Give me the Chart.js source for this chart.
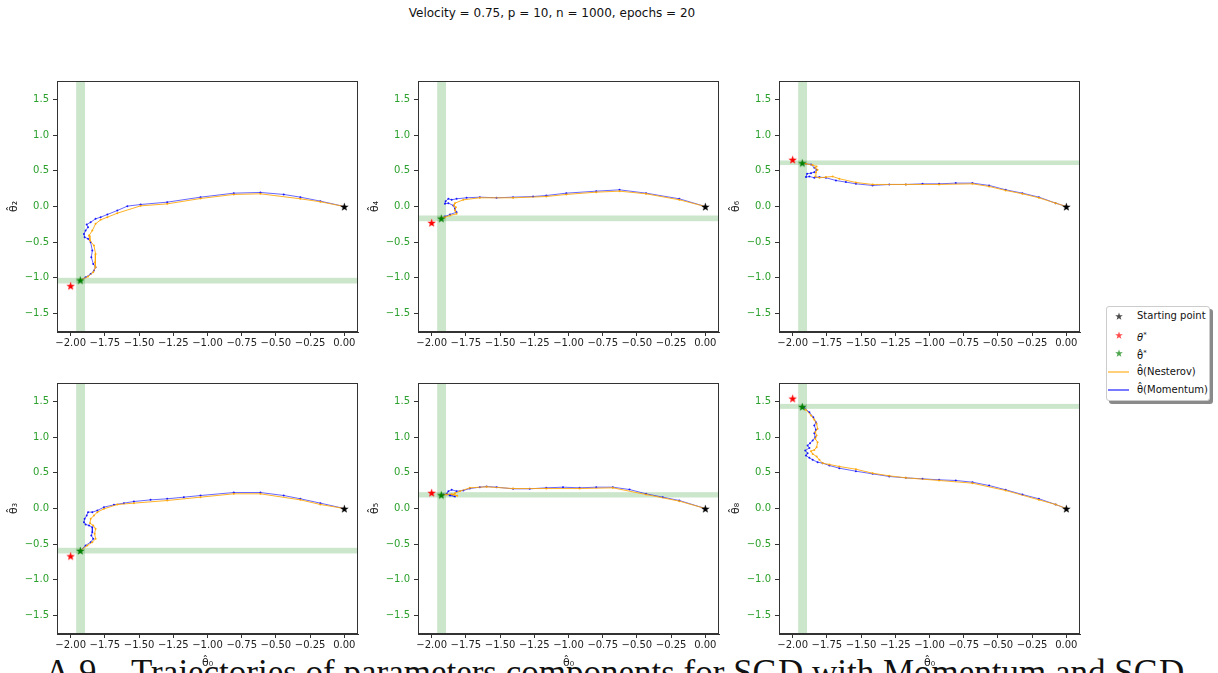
<!DOCTYPE html>
<html>
<head>
<meta charset="utf-8">
<script src="https://cdn.jsdelivr.net/npm/chart.js@4.4.0/dist/chart.umd.min.js"></script>
<style>
body { margin:0; width:1218px; height:673px; overflow:hidden; background:#fff; position:relative; font-family:"DejaVu Sans", sans-serif; }
canvas.panel { position:absolute; }
#title { position:absolute; top:6px; left:0; width:1104px; text-align:center; font-size:12px; color:#111; }
#caption { position:absolute; left:45px; top:655px; font-family:"Liberation Serif", serif; font-size:35px; line-height:35px; white-space:nowrap; color:#111; }
#legend { position:absolute; left:1106px; top:306px; width:102px; height:93px; border:1px solid #ccc; border-radius:3px; background:#fff; box-shadow:3px 3px 0 #8a8a8a; font-size:10px; color:#111; }
.row { position:absolute; left:0; height:18px; line-height:18px; }
.row canvas { position:absolute; top:0; left:0; }
.row span { position:absolute; left:30px; white-space:nowrap; }
</style>
</head>
<body>
<div id="caption">A.9 – Trajectories of parameters components for SGD with Momentum and SGD</div>
<div id="title">Velocity = 0.75, p = 10, n = 1000, epochs = 20</div>
<div id="legend"></div>
<script>
// axes
const xTicks = [-2, -1.75, -1.5, -1.25, -1, -0.75, -0.5, -0.25, 0];
const yTicks = [-1.5, -1, -0.5, 0, 0.5, 1, 1.5];
const components = ['θ̂₂', 'θ̂₄', 'θ̂₆', 'θ̂₃', 'θ̂₅', 'θ̂₈'];
const xLabel = 'θ̂₀';

// markers, one per panel
const startPoint = [0, 0];
const thetaStar = [[-2.0, -1.11], [-2.0, -0.225], [-2.0, 0.66], [-2.0, -0.664], [-2.0, 0.224], [-2.0, 1.547]];
const thetaHatStar = [[-1.93, -1.03], [-1.93, -0.164], [-1.93, 0.613], [-1.93, -0.589], [-1.93, 0.192], [-1.93, 1.43]];
const vBands = [[-1.96, -1.895], [-1.96, -1.895], [-1.96, -1.895], [-1.96, -1.895], [-1.96, -1.895], [-1.96, -1.895]];
const hBands = [[-1.08, -1.0], [-0.206, -0.126], [0.581, 0.646], [-0.631, -0.551], [0.154, 0.229], [1.397, 1.467]];

// trajectories (theta0, thetaK)
const mom2 = [[0,0],[-0.175,0.075],[-0.321,0.131],[-0.443,0.169],[-0.613,0.197],[-0.808,0.187],[-1.051,0.131],[-1.294,0.061],[-1.489,0.028],[-1.586,0.005],[-1.659,-0.056],[-1.732,-0.112],[-1.781,-0.15],[-1.818,-0.173],[-1.854,-0.22],[-1.883,-0.253],[-1.873,-0.29],[-1.891,-0.337],[-1.903,-0.384],[-1.898,-0.431],[-1.873,-0.454],[-1.854,-0.501],[-1.842,-0.618],[-1.849,-0.712],[-1.835,-0.805],[-1.818,-0.852],[-1.83,-0.899],[-1.854,-0.946],[-1.891,-0.993],[-1.927,-1.03]];
const nes2 = [[0,0],[-0.175,0.066],[-0.321,0.108],[-0.613,0.178],[-0.808,0.169],[-1.051,0.112],[-1.294,0.037],[-1.489,0.009],[-1.659,-0.094],[-1.732,-0.15],[-1.781,-0.187],[-1.818,-0.243],[-1.842,-0.337],[-1.866,-0.407],[-1.859,-0.478],[-1.83,-0.548],[-1.818,-0.665],[-1.822,-0.782],[-1.818,-0.852],[-1.835,-0.922],[-1.873,-0.983],[-1.927,-1.03]];
const mom4 = [[0,0],[-0.19,0.108],[-0.433,0.187],[-0.627,0.234],[-0.797,0.215],[-1.016,0.187],[-1.162,0.154],[-1.259,0.14],[-1.405,0.131],[-1.526,0.122],[-1.648,0.131],[-1.745,0.122],[-1.818,0.108],[-1.854,0.094],[-1.878,0.108],[-1.898,0.075],[-1.903,0.037],[-1.878,0.047],[-1.842,0.014],[-1.83,-0.033],[-1.818,-0.08],[-1.866,-0.112],[-1.903,-0.14],[-1.932,-0.164]];
const nes4 = [[0,0],[-0.19,0.094],[-0.433,0.178],[-0.627,0.215],[-0.797,0.201],[-1.016,0.169],[-1.162,0.14],[-1.405,0.122],[-1.648,0.122],[-1.769,0.094],[-1.83,0.047],[-1.837,0.014],[-1.823,-0.009],[-1.83,-0.056],[-1.818,-0.103],[-1.866,-0.126],[-1.903,-0.15],[-1.932,-0.164]];
const mom6 = [[0,0],[-0.078,0.047],[-0.2,0.131],[-0.321,0.187],[-0.443,0.234],[-0.564,0.295],[-0.686,0.328],[-0.808,0.328],[-0.929,0.318],[-1.051,0.318],[-1.173,0.309],[-1.294,0.309],[-1.416,0.295],[-1.538,0.318],[-1.611,0.342],[-1.684,0.365],[-1.757,0.403],[-1.805,0.412],[-1.842,0.403],[-1.878,0.421],[-1.903,0.412],[-1.895,0.459],[-1.866,0.468],[-1.842,0.482],[-1.825,0.515],[-1.842,0.543],[-1.866,0.59],[-1.903,0.599],[-1.932,0.613]];
const nes6 = [[0,0],[-0.078,0.047],[-0.2,0.122],[-0.321,0.178],[-0.443,0.225],[-0.564,0.281],[-0.686,0.318],[-0.929,0.309],[-1.173,0.309],[-1.416,0.309],[-1.538,0.337],[-1.659,0.389],[-1.708,0.421],[-1.757,0.412],[-1.805,0.403],[-1.835,0.421],[-1.83,0.482],[-1.818,0.515],[-1.835,0.543],[-1.825,0.562],[-1.854,0.581],[-1.903,0.599],[-1.932,0.613]];
const mom3 = [[0,0],[-0.175,0.075],[-0.321,0.136],[-0.443,0.182],[-0.613,0.224],[-0.808,0.224],[-1.051,0.182],[-1.173,0.159],[-1.294,0.136],[-1.416,0.121],[-1.538,0.098],[-1.611,0.075],[-1.684,0.051],[-1.757,0.019],[-1.805,-0.028],[-1.842,-0.051],[-1.873,-0.051],[-1.883,-0.098],[-1.898,-0.145],[-1.903,-0.192],[-1.891,-0.224],[-1.866,-0.238],[-1.842,-0.262],[-1.842,-0.332],[-1.849,-0.379],[-1.835,-0.425],[-1.854,-0.472],[-1.891,-0.519],[-1.927,-0.589]];
const nes3 = [[0,0],[-0.175,0.056],[-0.321,0.121],[-0.613,0.206],[-0.808,0.206],[-1.051,0.159],[-1.294,0.112],[-1.538,0.075],[-1.659,0.056],[-1.757,-0.005],[-1.805,-0.051],[-1.83,-0.098],[-1.854,-0.145],[-1.859,-0.206],[-1.835,-0.238],[-1.818,-0.285],[-1.825,-0.355],[-1.818,-0.425],[-1.842,-0.472],[-1.878,-0.519],[-1.927,-0.589]];
const mom5 = [[0,0],[-0.19,0.112],[-0.311,0.159],[-0.433,0.206],[-0.554,0.266],[-0.676,0.299],[-0.797,0.299],[-0.919,0.29],[-1.04,0.299],[-1.162,0.29],[-1.283,0.276],[-1.405,0.276],[-1.526,0.299],[-1.599,0.308],[-1.648,0.299],[-1.721,0.28],[-1.769,0.252],[-1.818,0.243],[-1.854,0.262],[-1.878,0.243],[-1.891,0.206],[-1.866,0.182],[-1.83,0.168],[-1.866,0.192],[-1.915,0.196],[-1.932,0.192]];
const nes5 = [[0,0],[-0.19,0.103],[-0.433,0.196],[-0.676,0.29],[-0.919,0.28],[-1.162,0.28],[-1.405,0.28],[-1.599,0.304],[-1.721,0.29],[-1.793,0.243],[-1.83,0.215],[-1.842,0.196],[-1.813,0.178],[-1.854,0.201],[-1.891,0.196],[-1.932,0.192]];
const mom8 = [[0,0],[-0.078,0.056],[-0.2,0.136],[-0.321,0.196],[-0.443,0.262],[-0.564,0.322],[-0.686,0.369],[-0.808,0.393],[-0.929,0.402],[-1.051,0.416],[-1.173,0.43],[-1.294,0.449],[-1.416,0.486],[-1.538,0.523],[-1.659,0.565],[-1.732,0.603],[-1.781,0.636],[-1.818,0.65],[-1.854,0.682],[-1.878,0.71],[-1.903,0.743],[-1.891,0.776],[-1.908,0.813],[-1.878,0.85],[-1.891,0.883],[-1.873,0.916],[-1.854,0.953],[-1.835,1.0],[-1.842,1.056],[-1.83,1.103],[-1.842,1.164],[-1.83,1.21],[-1.849,1.28],[-1.878,1.35],[-1.915,1.411],[-1.932,1.43]];
const nes8 = [[0,0],[-0.078,0.056],[-0.2,0.121],[-0.443,0.252],[-0.686,0.355],[-0.929,0.393],[-1.173,0.43],[-1.294,0.458],[-1.416,0.495],[-1.538,0.551],[-1.659,0.589],[-1.732,0.617],[-1.781,0.636],[-1.805,0.682],[-1.825,0.729],[-1.854,0.766],[-1.866,0.804],[-1.842,0.822],[-1.825,0.86],[-1.818,0.93],[-1.835,0.977],[-1.825,1.023],[-1.835,1.07],[-1.818,1.117],[-1.825,1.187],[-1.842,1.243],[-1.866,1.304],[-1.903,1.383],[-1.932,1.43]];

const momentum = [mom2, mom4, mom6, mom3, mom5, mom8];
const nesterov = [nes2, nes4, nes6, nes3, nes5, nes8];

const panelLefts = [0, 361, 722];
const panelTops = [73, 375];

function makeStar(color, r) {
    const s = Math.ceil(r * 2 + 2);
    const c = document.createElement('canvas');
    c.width = s; c.height = s;
    const g = c.getContext('2d');
    g.beginPath();
    for (let i = 0; i < 10; i++) {
        const rad = i % 2 ? r * 0.4 : r;
        const a = -Math.PI / 2 + i * Math.PI / 5;
        g.lineTo(s / 2 + rad * Math.cos(a), s / 2 + 0.6 + rad * Math.sin(a));
    }
    g.closePath();
    g.fillStyle = color;
    g.fill();
    return c;
}

const toXY = pts => pts.map(p => ({ x: p[0], y: p[1] }));
const fmt = (v, d) => v.toFixed(d).replace('-', '\u2212');

const bandsPlugin = {
    id: 'bands',
    beforeDatasetsDraw(chart, args, opts) {
        const { ctx, chartArea: a, scales: { x, y } } = chart;
        ctx.save();
        ctx.beginPath();
        ctx.rect(a.left, a.top, a.width, a.height);
        ctx.clip();
        ctx.fillStyle = 'rgba(0,128,0,0.2)';
        const x0 = x.getPixelForValue(opts.v[0]), x1 = x.getPixelForValue(opts.v[1]);
        ctx.fillRect(x0, a.top, x1 - x0, a.height);
        const y0 = y.getPixelForValue(opts.h[1]), y1 = y.getPixelForValue(opts.h[0]);
        ctx.fillRect(a.left, y0, a.width, y1 - y0);
        ctx.restore();
    },
    afterDraw(chart) {
        const { ctx, chartArea: a } = chart;
        ctx.save();
        ctx.strokeStyle = '#333';
        ctx.lineWidth = 1;
        ctx.strokeRect(Math.round(a.left) + 0.5, Math.round(a.top) + 0.5, Math.round(a.width) - 1, Math.round(a.height) - 1);
        ctx.restore();
    }
};

const blackStar = makeStar('#000', 4.5);
const redStar = makeStar('#f00', 4.5);
const greenStar = makeStar('#008000', 4.5);

for (let i = 0; i < 6; i++) {
    const row = Math.floor(i / 3), col = i % 3;
    const bottomRow = row === 1;
    const xh = bottomRow ? 39 : 24;
    const cv = document.createElement('canvas');
    cv.className = 'panel';
    cv.width = 366;
    cv.height = 8 + 251 + xh;
    cv.style.left = panelLefts[col] + 'px';
    cv.style.top = panelTops[row] + 'px';
    document.body.appendChild(cv);

    new Chart(cv.getContext('2d'), {
        type: 'scatter',
        data: {
            datasets: [
                { data: toXY([startPoint]), pointStyle: blackStar, pointRadius: 5 },
                { data: toXY([thetaStar[i]]), pointStyle: redStar, pointRadius: 5 },
                { data: toXY([thetaHatStar[i]]), pointStyle: greenStar, pointRadius: 5 },
                {
                    data: toXY(nesterov[i]), showLine: true, borderColor: 'rgba(255,165,0,0.85)', borderWidth: 1,
                    pointRadius: 1, pointBackgroundColor: 'rgba(255,165,0,0.9)', pointBorderWidth: 0
                },
                {
                    data: toXY(momentum[i]), showLine: true, borderColor: 'rgba(0,0,255,0.75)', borderWidth: 0.8,
                    pointRadius: 1, pointBackgroundColor: 'rgba(0,0,255,0.85)', pointBorderWidth: 0
                }
            ]
        },
        options: {
            responsive: false,
            animation: false,
            layout: { padding: { top: 8, right: 8, left: 0, bottom: 0 } },
            plugins: {
                legend: { display: false },
                tooltip: { enabled: false },
                bands: { v: vBands[i], h: hBands[i] }
            },
            scales: {
                x: {
                    type: 'linear', min: -2.1, max: 0.1,
                    afterBuildTicks: s => { s.ticks = xTicks.map(v => ({ value: v })); },
                    afterFit: s => { s.height = xh; s.paddingLeft = 0; s.paddingRight = 0; },
                    grid: { drawOnChartArea: false, drawTicks: true, tickLength: 4, color: '#333' },
                    border: { display: true, color: '#333' },
                    ticks: {
                        autoSkip: false, maxRotation: 0, padding: 1, color: '#222',
                        font: { family: 'DejaVu Sans', size: 10 },
                        callback: v => fmt(v, 2)
                    },
                    title: {
                        display: bottomRow, text: xLabel, color: '#222',
                        font: { family: 'DejaVu Sans', size: 11 }, padding: { top: 0, bottom: 3 }
                    }
                },
                y: {
                    type: 'linear', min: -1.76, max: 1.76,
                    afterBuildTicks: s => { s.ticks = yTicks.map(v => ({ value: v })); },
                    afterFit: s => { s.width = 57; s.paddingTop = 0; s.paddingBottom = 0; },
                    grid: { drawOnChartArea: false, drawTicks: true, tickLength: 4, color: '#333' },
                    border: { display: true, color: '#333' },
                    ticks: {
                        autoSkip: false, padding: 4, color: '#2ca02c',
                        font: { family: 'DejaVu Sans', size: 10 },
                        callback: v => fmt(v, 1)
                    },
                    title: {
                        display: true, text: components[i], color: '#222',
                        font: { family: 'DejaVu Sans', size: 11 }, padding: { top: 8, bottom: 0 }
                    }
                }
            }
        },
        plugins: [bandsPlugin]
    });
}

// legend
const legendItems = [
    { kind: 'star', color: 'rgba(0,0,0,0.7)', text: 'Starting point' },
    { kind: 'star', color: 'rgba(255,0,0,0.7)', text: '<i>θ</i><sup style="font-size:7px">*</sup>' },
    { kind: 'star', color: 'rgba(0,128,0,0.7)', text: 'θ̂<sup style="font-size:7px">*</sup>' },
    { kind: 'line', color: 'rgba(255,165,0,0.7)', text: 'θ̂(Nesterov)' },
    { kind: 'line', color: 'rgba(0,0,255,0.7)', text: 'θ̂(Momentum)' }
];
const legend = document.getElementById('legend');
legendItems.forEach((it, k) => {
    const r = document.createElement('div');
    r.className = 'row';
    r.style.top = (k * 18.5) + 'px';
    r.style.width = '100%';
    let mk;
    if (it.kind === 'star') {
        mk = makeStar(it.color, 4);
        mk.style.left = (12 - mk.width / 2) + 'px';
        mk.style.top = (9 - mk.height / 2) + 'px';
    } else {
        mk = document.createElement('canvas');
        mk.width = 24; mk.height = 18;
        const g = mk.getContext('2d');
        g.strokeStyle = it.color; g.lineWidth = 1.5;
        g.beginPath(); g.moveTo(1, 9); g.lineTo(22, 9); g.stroke();
    }
    r.appendChild(mk);
    const sp = document.createElement('span');
    sp.innerHTML = it.text;
    r.appendChild(sp);
    legend.appendChild(r);
});
</script>
</body>
</html>
